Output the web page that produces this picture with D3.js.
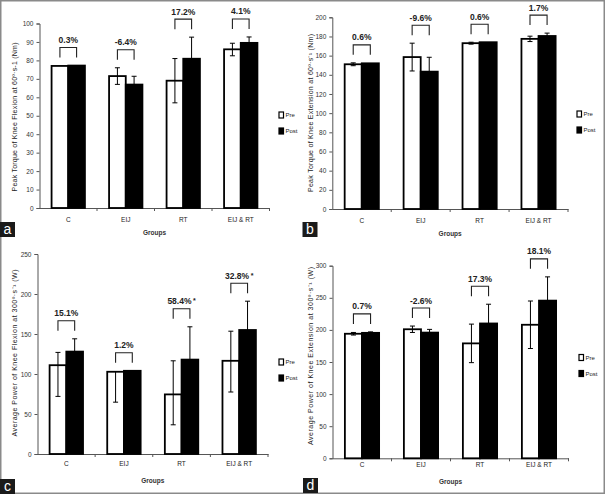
<!DOCTYPE html>
<html>
<body style="margin:0;background:#fff">

<script src="https://d3js.org/d3.v7.min.js"></script>
<style>
  text { font-family: "Liberation Sans", Arial, sans-serif; }
</style>

<script>

var groups = ["C", "EIJ", "RT", "EIJ & RT"];
var series = ["Pre", "Post"];

// a - peak torque, flexion 60
var aPre = [77, 71.5, 69, 86];
var aPost = [77.2, 66.9, 80.9, 89.5];
var aPreUp = [0, 4.5, 12, 3.3];
var aPreDown = [0, 4.5, 12, 3.5];
var aPostUp = [0, 4.5, 11.7, 3.2];
var aPct = ["0.3%", "-6.4%", "17.2%", "4.1%"];

// b - peak torque, extension 60
var bPre = [151, 158.5, 173, 177.5];
var bPost = [152, 143.3, 174, 180.5];
var bPreUp = [1.5, 14.5, 1, 2.8];
var bPreDown = [1.5, 14.5, 1, 2.8];
var bPostUp = [0, 15, 0, 3];
var bPct = ["0.6%", "-9.6%", "0.6%", "1.7%"];

// c - average power, flexion 300
var cPre = [111, 102.8, 74.5, 116.5];
var cPost = [128, 104, 118, 155];
var cPreUp = [16, 0, 42, 37];
var cPreDown = [39, 38, 38, 39];
var cPostUp = [16, 0, 41, 36];
var cPct = ["15.1%", "1.2%", "58.4%", "32.8%"];
var cStar = [false, false, true, true];

// d - average power, extension 300
var dPre = [194, 201, 179, 208];
var dPost = [195.4, 195.8, 210, 245.6];
var dPreUp = [2, 5, 30, 37];
var dPreDown = [2, 5, 30, 37];
var dPostUp = [1.5, 5, 30, 37];
var dPct = ["0.7%", "-2.6%", "17.3%", "18.1%"];

var W = 605, H = 494;

var svg = d3.select("body").append("svg")
    .attr("width", W)
    .attr("height", H);

svg.append("rect")
   .attr("x", 0.75).attr("y", 0.75)
   .attr("width", W - 1.5).attr("height", H - 1.5)
   .attr("fill", "#fff")
   .attr("stroke", "#8a8a8a")
   .attr("stroke-width", 1.5);

var panels = [
  {id: "a", pre: aPre, post: aPost, preUp: aPreUp, preDown: aPreDown, postUp: aPostUp, pct: aPct,
   max: 100, step: 10, x0: 39.5, x1: 269.5, y0: 208, y1: 23.5,
   title: "Peak Torque of Knee Flexion at 60\u00ba\u00b7s-1 (Nm)", titleX: 15, titleY: 117, titleLen: 149,
   catY: 222, groupsY: 234.5, legX: 279, legY: 115, box: [0, 222]},
  {id: "b", pre: bPre, post: bPost, preUp: bPreUp, preDown: bPreDown, postUp: bPostUp, pct: bPct,
   max: 200, step: 20, x0: 332.3, x1: 568, y0: 209, y1: 17.3,
   title: "Peak Torque of Knee Extension at 60\u00ba\u00b7s\u207b\u00b9 (Nm)", titleX: 311, titleY: 113, titleLen: 158,
   catY: 222.5, groupsY: 236, legX: 577, legY: 114, box: [302.5, 222]},
  {id: "c", pre: cPre, post: cPost, preUp: cPreUp, preDown: cPreDown, postUp: cPostUp, pct: cPct, star: cStar,
   max: 250, step: 50, x0: 37.5, x1: 268, y0: 454, y1: 254,
   title: "Average  Power of Knee Flexion at 300\u00ba\u00b7s\u207b\u00b9 (W)", titleX: 15, titleY: 353, titleLen: 167,
   catY: 465.5, groupsY: 482.5, legX: 279, legY: 362, box: [0, 479]},
  {id: "d", pre: dPre, post: dPost, preUp: dPreUp, preDown: dPreDown, postUp: dPostUp, pct: dPct,
   max: 300, step: 50, x0: 332.5, x1: 568.5, y0: 458.3, y1: 265.7,
   title: "Average  Power of Knee Extension at 300\u00ba\u00b7s\u207b\u00b9 (W)", titleX: 311, titleY: 356, titleLen: 178,
   catY: 466.5, groupsY: 484, legX: 579, legY: 357.5, box: [303, 478]}
];

panels.forEach(drawPanel);

function drawPanel(p) {
  var g = svg.append("g");

  var x = d3.scaleBand()
            .domain(groups)
            .range([p.x0, p.x1])
            .paddingInner(0.42)
            .paddingOuter(0.21);

  var xs = d3.scaleBand()
             .domain(series)
             .range([0, x.bandwidth()]);

  var y = d3.scaleLinear()
            .domain([0, p.max])
            .range([p.y0, p.y1]);

  var yAxis = d3.axisLeft(y)
                .tickValues(d3.range(0, p.max + 1, p.step))
                .tickSize(3)
                .tickPadding(3);

  var ya = g.append("g")
     .attr("transform", "translate(" + p.x0 + ",0)")
     .call(yAxis);
  ya.select(".domain").attr("stroke", "#555");
  ya.selectAll(".tick line").attr("stroke", "#555");
  ya.selectAll("text").attr("font-size", 6.5).attr("fill", "#333")
    .attr("font-family", "Liberation Sans, Arial, sans-serif");

  // x axis: line, ticks on category boundaries, labels under bands
  var xa = g.append("g")
     .attr("transform", "translate(0," + p.y0 + ")")
     .call(d3.axisBottom(x).tickSize(0).tickFormat(""));
  xa.select(".domain").attr("stroke", "#555");
  var stepW = x.step();
  g.selectAll(".bound")
   .data(d3.range(1, groups.length + 1))
   .enter().append("line")
   .attr("x1", function(i) { return p.x0 + i * stepW; })
   .attr("x2", function(i) { return p.x0 + i * stepW; })
   .attr("y1", p.y0).attr("y2", p.y0 + 3)
   .attr("stroke", "#555");

  g.selectAll(".cat")
   .data(groups).enter()
   .append("text")
   .attr("x", function(d) { return x(d) + x.bandwidth() / 2; })
   .attr("y", p.catY)
   .attr("text-anchor", "middle")
   .attr("font-size", 6.5)
   .attr("fill", "#222")
   .text(function(d) { return d; });

  g.append("text")
   .attr("x", (p.x0 + p.x1) / 2)
   .attr("y", p.groupsY)
   .attr("text-anchor", "middle")
   .attr("font-size", 6.5)
   .attr("font-weight", "bold")
   .attr("fill", "#333")
   .text("Groups");

  g.append("text")
   .attr("transform", "translate(" + p.titleX + "," + p.titleY + ") rotate(-90)")
   .attr("text-anchor", "middle")
   .attr("dy", "0.35em")
   .attr("font-size", 7)
   .attr("textLength", p.titleLen)
   .attr("lengthAdjust", "spacing")
   .attr("fill", "#222")
   .text(p.title);

  var rows = groups.map(function(gname, i) {
    return {g: gname, i: i, pre: p.pre[i], post: p.post[i],
            preUp: p.preUp[i], preDown: p.preDown[i], postUp: p.postUp[i]};
  });

  // bars
  rows.forEach(function(r) {
    [["Pre", r.pre, r.preUp, r.preDown], ["Post", r.post, r.postUp, r.postUp]].forEach(function(s) {
      var bx = x(r.g) + xs(s[0]);
      var bw = xs.bandwidth();
      g.append("rect")
       .attr("x", bx)
       .attr("y", y(s[1]))
       .attr("width", bw)
       .attr("height", y(0) - y(s[1]))
       .attr("fill", s[0] == "Pre" ? "#fff" : "#000")
       .attr("stroke", "#000")
       .attr("stroke-width", 1.8);

      // error bar
      var cx = bx + bw / 2;
      if (s[2] > 0) {
        g.append("line").attr("x1", cx).attr("x2", cx)
         .attr("y1", y(s[1])).attr("y2", y(s[1] + s[2]))
         .attr("stroke", "#000").attr("stroke-width", 1);
        g.append("line").attr("x1", cx - 2.5).attr("x2", cx + 2.5)
         .attr("y1", y(s[1] + s[2])).attr("y2", y(s[1] + s[2]))
         .attr("stroke", "#000").attr("stroke-width", 1);
      }
      if (s[3] > 0) {
        g.append("line").attr("x1", cx).attr("x2", cx)
         .attr("y1", y(s[1])).attr("y2", y(s[1] - s[3]))
         .attr("stroke", "#000").attr("stroke-width", 1);
        g.append("line").attr("x1", cx - 2.5).attr("x2", cx + 2.5)
         .attr("y1", y(s[1] - s[3])).attr("y2", y(s[1] - s[3]))
         .attr("stroke", "#000").attr("stroke-width", 1);
      }
    });

    // bracket + percent change
    var top = Math.min(y(r.pre + r.preUp), y(r.post + r.postUp));
    var xl = x(r.g) + xs("Pre") + xs.bandwidth() / 2;
    var xr = x(r.g) + xs("Post") + xs.bandwidth() / 2;
    var yb = top - 8, yt = yb - 10;
    g.append("path")
     .attr("d", "M" + xl + "," + yb + "V" + yt + "H" + xr + "V" + yb)
     .attr("fill", "none")
     .attr("stroke", "#222")
     .attr("stroke-width", 1.1);
    var t = g.append("text")
     .attr("x", (xl + xr) / 2)
     .attr("y", yt - 4.5)
     .attr("text-anchor", "middle")
     .attr("font-size", 8.5)
     .attr("font-weight", "bold")
     .attr("fill", "#222")
     .text(p.pct[r.i]);
    if (p.star && p.star[r.i]) {
      t.append("tspan").attr("dx", 1.5).attr("dy", -1).attr("font-size", 7).text("*");
    }
  });

  // legend
  series.forEach(function(s, i) {
    var ly = p.legY + i * 16;
    g.append("rect")
     .attr("x", p.legX).attr("y", ly - 3)
     .attr("width", 4.5).attr("height", 6)
     .attr("fill", s == "Pre" ? "#fff" : "#000")
     .attr("stroke", "#000").attr("stroke-width", 1.2);
    g.append("text")
     .attr("x", p.legX + 6.5).attr("y", ly + 2.3)
     .attr("font-size", 6)
     .attr("fill", "#222")
     .text(s);
  });

  // panel letter
  g.append("rect")
   .attr("x", p.box[0]).attr("y", p.box[1])
   .attr("width", 15).attr("height", 15)
   .attr("fill", "#1a1a1a");
  g.append("text")
   .attr("x", p.box[0] + 7.5).attr("y", p.box[1] + 12)
   .attr("text-anchor", "middle")
   .attr("font-size", 14)
   .attr("fill", "#fff")
   .text(p.id);
}

</script>
</body>
</html>
